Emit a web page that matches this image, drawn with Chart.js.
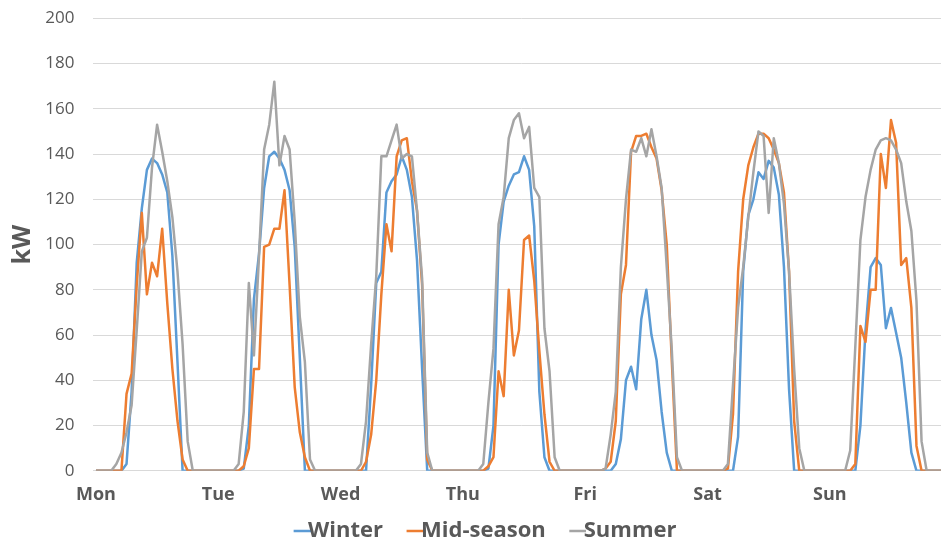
<!DOCTYPE html>
<html>
<head>
<meta charset="utf-8">
<title>Hourly PV output by season</title>
<script src="https://cdn.jsdelivr.net/npm/chart.js@4/dist/chart.umd.min.js"></script>
<style>
  html, body { margin: 0; padding: 0; background: #fff; overflow: hidden; width: 941px; height: 547px; }
  #wrap { width: 966px; height: 552px; }
  canvas { display: block; }
</style>
</head>
<body>
<div id="wrap"><canvas id="chart" width="966" height="552"></canvas></div>
<script>
// Days of the week shown on the category axis (one label every 24 hourly points)
const dayLabels = ['Mon', 'Tue', 'Wed', 'Thu', 'Fri', 'Sat', 'Sun'];
const seriesNames = ['Winter', 'Mid-season', 'Summer'];
const yTicks = [0, 20, 40, 60, 80, 100, 120, 140, 160, 180, 200];

// Hourly output in kW, one row of 24 values per day
const winterByDay = [
  [0,0,0,0,0,0,3,35,92,116,133,138,136,131,123,95,48,0,0,0,0,0,0,0],
  [0,0,0,0,0,1,20,76,96,125,139,141,138,133,124,99,50,0,0,0,0,0,0,0],
  [0,0,0,0,0,0,38,83,88,123,128,131,139,133,121,93,45,0,0,0,0,0,0,0],
  [0,0,0,0,0,1,20,100,119,126,131,132,139,133,108,35,6,0,0,0,0,0,0,0],
  [0,0,0,0,0,0,3,14,40,46,36,67,80,60,49,26,8,0,0,0,0,0,0,0],
  [0,0,0,0,0,0,15,88,113,120,132,129,137,134,122,90,36,0,0,0,0,0,0,0],
  [0,0,0,0,0,0,20,62,90,94,91,63,72,61,50,30,8,0,0,0,0,0,0,0]
];
const midSeasonByDay = [
  [0,0,0,0,0,0,34,43,82,114,78,92,86,107,74,45,22,5,0,0,0,0,0,0],
  [0,0,0,0,0,2,10,45,45,99,100,107,107,124,82,37,17,6,0,0,0,0,0,0],
  [0,0,0,0,0,4,16,40,78,109,97,139,146,147,128,115,82,5,0,0,0,0,0,0],
  [0,0,0,0,0,2,6,44,33,80,51,62,102,104,84,53,25,4,0,0,0,0,0,0],
  [0,0,0,0,1,4,22,78,91,141,148,148,149,143,138,124,100,48,0,0,0,0,0,0],
  [0,0,0,0,1,25,88,120,135,143,149,149,147,142,136,123,88,22,0,0,0,0,0,0],
  [0,0,0,0,0,3,64,57,80,80,140,125,155,145,91,94,72,11,0,0,0,0,0,0]
];
const summerByDay = [
  [0,0,0,0,3,8,17,29,62,97,103,134,153,141,128,112,88,56,13,0,0,0,0,0],
  [0,0,0,0,3,26,83,51,95,142,153,172,135,148,142,110,68,48,5,0,0,0,0,0],
  [0,0,0,0,3,22,56,86,139,139,146,153,138,140,139,115,85,8,0,0,0,0,0,0],
  [0,0,0,0,3,30,54,109,121,147,155,158,147,152,125,121,63,44,6,0,0,0,0,0],
  [0,0,0,0,1,16,35,90,120,142,141,147,139,151,139,125,90,53,6,0,0,0,0,0],
  [0,0,0,0,3,38,72,90,112,132,150,148,114,147,136,118,88,45,10,0,0,0,0,0],
  [0,0,0,0,9,55,102,121,133,142,146,147,146,142,136,119,106,75,13,0,0,0,0,0]
];

const winter = winterByDay.flat();
const midSeason = midSeasonByDay.flat();
const summer = summerByDay.flat();

const HOURS = 24;
const hourLabels = dayLabels.flatMap(d => Array.from({ length: HOURS }, (_, h) => d + ' ' + h + ':00'));

const colors = ['#5B9BD5', '#ED7D31', '#A5A5A5'];
const textColor = '#595959';
const gridColor = '#D9D9D9';

// Short line used as the legend key, sitting right before its label
const MARK_BOX = 7, MARK_LEN = 17, LEGEND_FONT = 22;
function lineKey(color) {
  const half = MARK_BOX / 2 + (LEGEND_FONT / 2 - 1 + MARK_BOX / 2);
  const c = document.createElement('canvas');
  c.width = Math.ceil(half * 2);
  c.height = 6;
  const g = c.getContext('2d');
  g.strokeStyle = color;
  g.lineWidth = 2.5;
  g.beginPath();
  g.moveTo(c.width - MARK_LEN, 3);
  g.lineTo(c.width, 3);
  g.stroke();
  return c;
}

Chart.defaults.font.family = "'Open Sans', 'Noto Sans', sans-serif";
Chart.defaults.color = textColor;

const seriesValues = [winter, midSeason, summer];
const datasets = seriesNames.map((name, i) => ({
  label: name,
  data: seriesValues[i],
  borderColor: colors[i],
  backgroundColor: colors[i],
  borderWidth: 2.5,
  pointRadius: 0,
  fill: false,
  tension: 0,
  borderJoinStyle: 'round',
  order: seriesNames.length - 1 - i
}));

const keys = colors.map(lineKey);

new Chart(document.getElementById('chart'), {
  type: 'line',
  data: { labels: hourLabels, datasets },
  options: {
    responsive: false,
    animation: false,
    events: [],
    layout: { padding: { top: 18.3, right: 16.4, bottom: 0, left: 17 } },
    scales: {
      x: {
        type: 'category',
        offset: true,
        grid: { display: false, drawTicks: false },
        border: { display: true, color: gridColor, width: 1 },
        ticks: {
          autoSkip: false,
          maxRotation: 0,
          minRotation: 0,
          padding: 13.5,
          color: textColor,
          font: { size: 18, weight: 'bold' },
          callback: (v, i) => (i % HOURS === 0 ? dayLabels[i / HOURS] : '')
        },
        afterFit: s => { s.height = 29.2; }
      },
      y: {
        min: 0,
        max: 200,
        afterBuildTicks: s => { s.ticks = yTicks.map(v => ({ value: v })); },
        grid: { color: gridColor, lineWidth: 1, drawTicks: false },
        border: { display: false },
        ticks: { padding: 19, color: textColor, font: { size: 17 } },
        title: {
          display: true,
          text: 'kW',
          color: textColor,
          font: { size: 25, weight: 'bold' },
          padding: { top: -9, bottom: 0 }
        },
        afterFit: s => {
          s.width = 76.4;
          s.paddingTop = 0;
          s.paddingBottom = 0;
        }
      }
    },
    plugins: {
      tooltip: { enabled: false },
      legend: {
        position: 'bottom',
        labels: {
          usePointStyle: true,
          pointStyleWidth: MARK_BOX,
          padding: 20,
          color: textColor,
          font: { size: LEGEND_FONT, weight: 'bold' },
          generateLabels: chart => chart.data.datasets.map((ds, i) => ({
            text: ds.label,
            datasetIndex: i,
            pointStyle: keys[i],
            fillStyle: 'rgba(0,0,0,0)',
            strokeStyle: 'rgba(0,0,0,0)',
            lineWidth: 0,
            hidden: false,
            fontColor: textColor
          }))
        }
      }
    }
  }
});
</script>
</body>
</html>
